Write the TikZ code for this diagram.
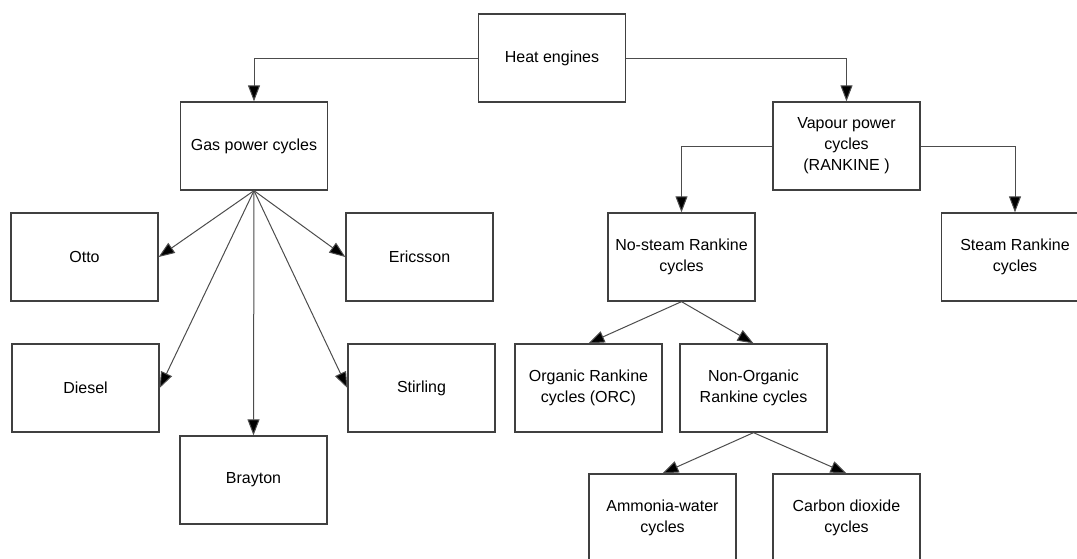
\documentclass[tikz,border=0pt]{standalone}
\usepackage{fontspec}
\setmainfont{Liberation Sans}
\usetikzlibrary{arrows.meta}
\begin{document}
\begin{tikzpicture}[x=1pt,y=-1pt,
  box/.style={draw=black!75,line width=1.3pt,rectangle,minimum width=147pt,minimum height=88pt,
    align=center,font=\fontsize{16}{21}\selectfont,inner sep=0pt},
  conn/.style={draw=black!70,line width=1pt,-{Triangle[length=16pt,width=12pt,fill=black]}}]
\useasboundingbox (0,0) rectangle (1077,558);
\clip (0,0) rectangle (1077,558);
\node[box] (heat) at (552,58) {Heat engines};
\node[box] (gas) at (254,146) {Gas power cycles};
\node[box] (vap) at (846.5,146) {Vapour power\\cycles\\(RANKINE )};
\node[box] (otto) at (84.5,257) {Otto};
\node[box] (eric) at (419.5,257) {Ericsson};
\node[box] (nosteam) at (681.5,257) {No-steam Rankine\\cycles};
\node[box] (steam) at (1015,257) {Steam Rankine\\cycles};
\node[box] (diesel) at (85.5,388) {Diesel};
\node[box] (stirling) at (421.5,388) {Stirling};
\node[box] (orc) at (588.5,388) {Organic Rankine\\cycles (ORC)};
\node[box] (nonorg) at (753.5,388) {Non-Organic\\Rankine cycles};
\node[box] (brayton) at (253.5,480) {Brayton};
\node[box] (ammonia) at (662.5,518) {Ammonia-water\\cycles};
\node[box] (co2) at (846.5,518) {Carbon dioxide\\cycles};
\draw[conn] (heat.west) -| (gas.north);
\draw[conn] (heat.east) -| (vap.north);
\draw[conn] (vap.west) -| (nosteam.north);
\draw[conn] (vap.east) -| (steam.north);
\draw[conn] (gas.south) -- (otto.east);
\draw[conn] (gas.south) -- (eric.west);
\draw[conn] (gas.south) -- (diesel.east);
\draw[conn] (gas.south) -- (brayton.north);
\draw[conn] (gas.south) -- (stirling.west);
\draw[conn] (nosteam.south) -- (orc.north);
\draw[conn] (nosteam.south) -- (nonorg.north);
\draw[conn] (nonorg.south) -- (ammonia.north);
\draw[conn] (nonorg.south) -- (co2.north);
\end{tikzpicture}
\end{document}
